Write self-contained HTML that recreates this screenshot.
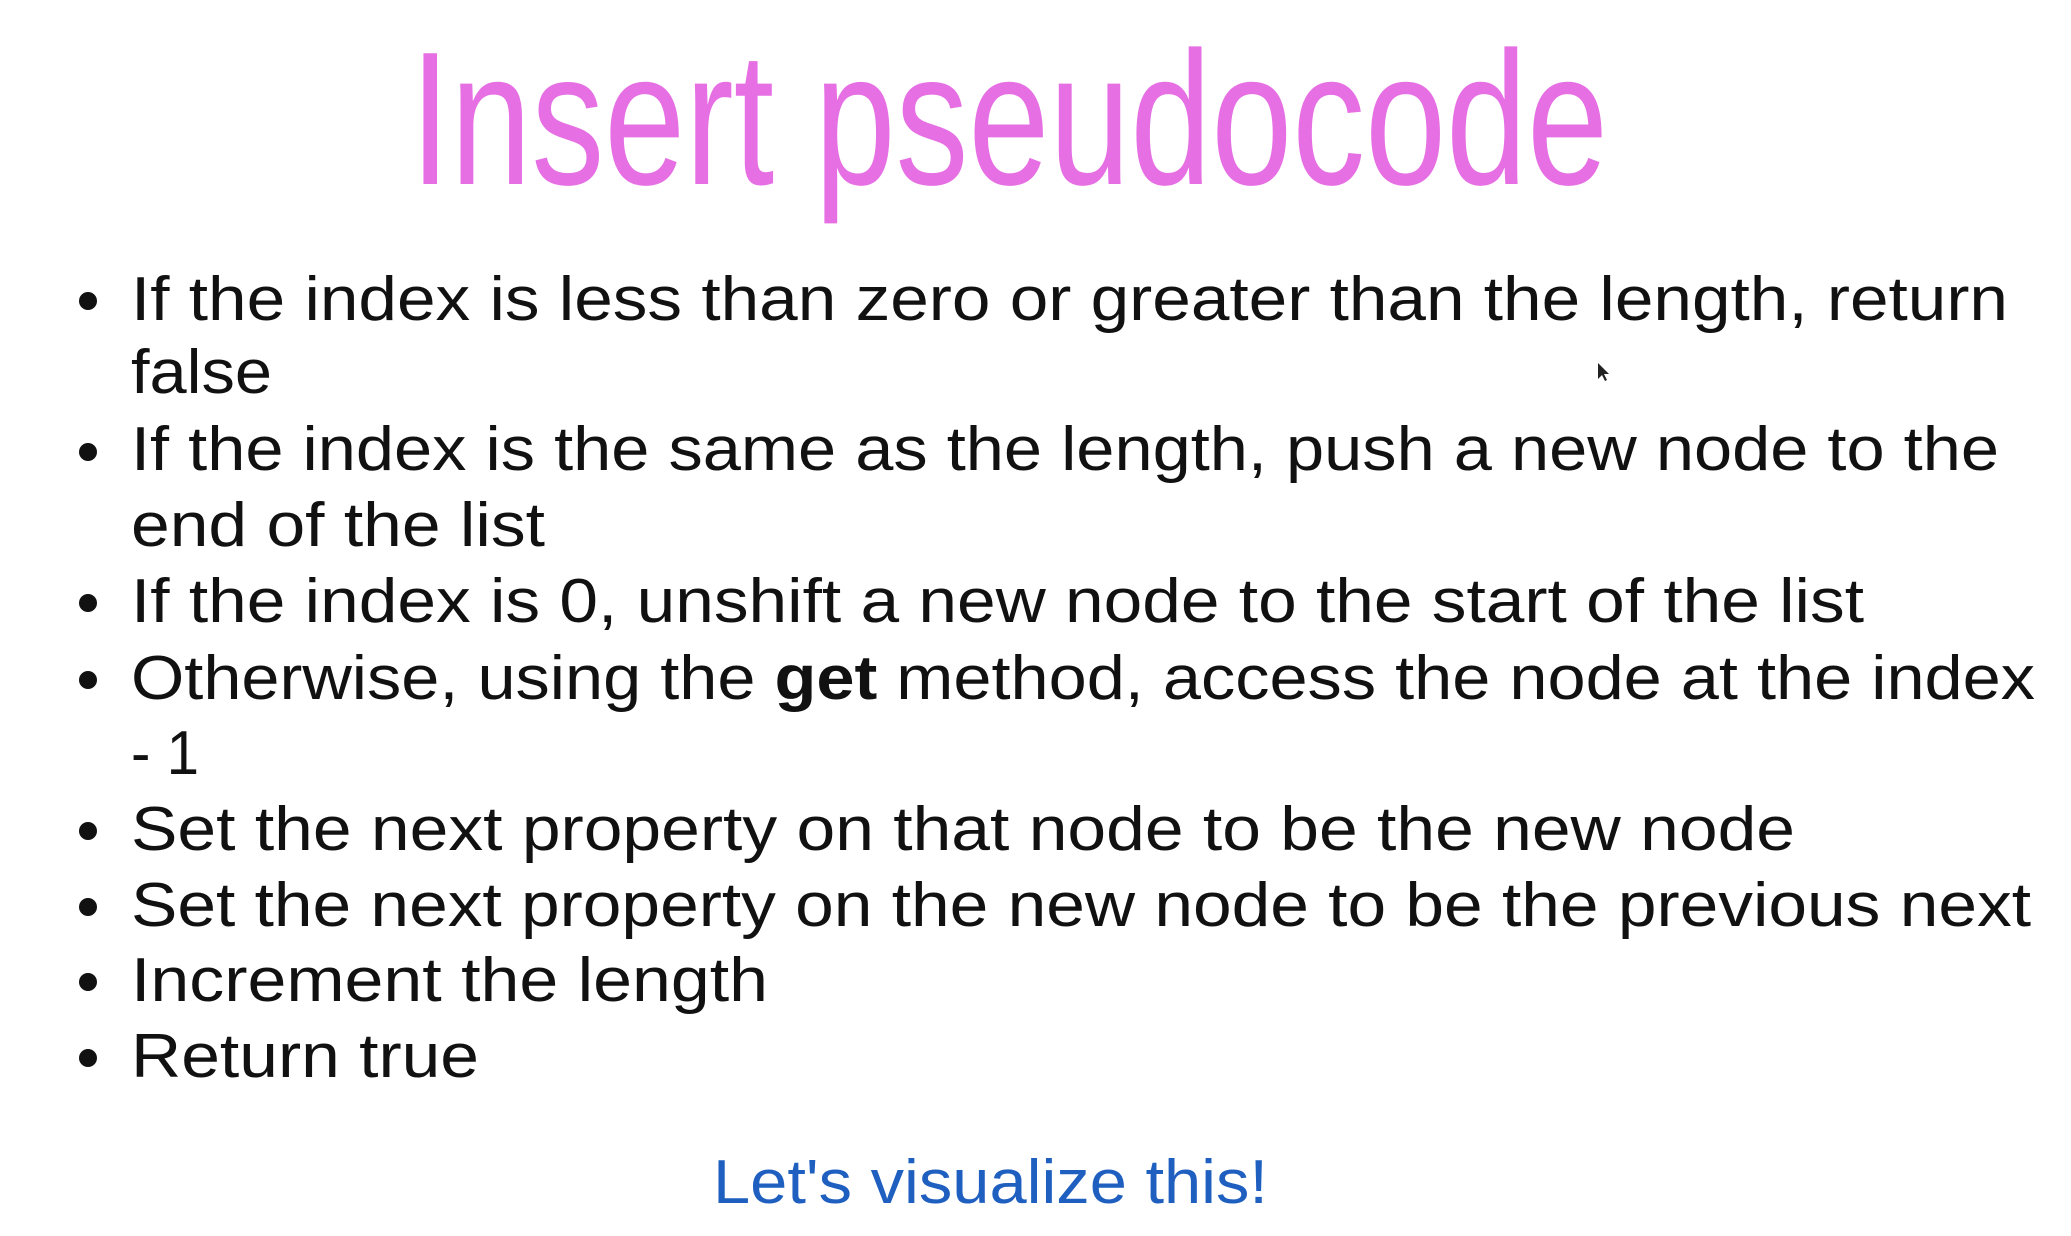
<!DOCTYPE html>
<html><head><meta charset="utf-8"><style>
html,body{margin:0;padding:0;background:#fff;}
svg{display:block;}
.b{font-family:"Liberation Sans",sans-serif;font-size:62px;fill:#111;}
</style></head><body>
<svg width="2071" height="1236" viewBox="0 0 2071 1236" xmlns="http://www.w3.org/2000/svg">
<rect width="2071" height="1236" fill="#fff"/>
<text x="410" y="184" font-family="Liberation Sans, sans-serif" font-size="190" fill="#e66fe4" textLength="1198" lengthAdjust="spacingAndGlyphs">Insert pseudocode</text>
<g fill="#111">
<circle cx="88" cy="301" r="9"/>
<circle cx="88" cy="452" r="9"/>
<circle cx="88" cy="603" r="9"/>
<circle cx="88" cy="680" r="9"/>
<circle cx="88" cy="831" r="9"/>
<circle cx="88" cy="907" r="9"/>
<circle cx="88" cy="982" r="9"/>
<circle cx="88" cy="1058" r="9"/>
</g>
<text class="b" x="131" y="320" textLength="1877" lengthAdjust="spacingAndGlyphs">If the index is less than zero or greater than the length, return</text>
<text class="b" x="131" y="393" textLength="141" lengthAdjust="spacingAndGlyphs">false</text>
<text class="b" x="131" y="470" textLength="1868" lengthAdjust="spacingAndGlyphs">If the index is the same as the length, push a new node to the</text>
<text class="b" x="131" y="546" textLength="414" lengthAdjust="spacingAndGlyphs">end of the list</text>
<text class="b" x="131" y="622" textLength="1733" lengthAdjust="spacingAndGlyphs">If the index is 0, unshift a new node to the start of the list</text>
<text class="b" x="131" y="699" textLength="1904" lengthAdjust="spacingAndGlyphs">Otherwise, using the <tspan font-weight="bold">get</tspan> method, access the node at the index</text>
<text class="b" x="131" y="774" textLength="68" lengthAdjust="spacingAndGlyphs">- 1</text>
<text class="b" x="131" y="850" textLength="1664" lengthAdjust="spacingAndGlyphs">Set the next property on that node to be the new node</text>
<text class="b" x="131" y="926" textLength="1900" lengthAdjust="spacingAndGlyphs">Set the next property on the new node to be the previous next</text>
<text class="b" x="131" y="1001" textLength="637" lengthAdjust="spacingAndGlyphs">Increment the length</text>
<text class="b" x="131" y="1077" textLength="348" lengthAdjust="spacingAndGlyphs">Return true</text>
<text x="713" y="1203" font-family="Liberation Sans, sans-serif" font-size="62" fill="#1f5fc0" textLength="555" lengthAdjust="spacingAndGlyphs">Let's visualize this!</text>
<path d="M1598 363 l0 16 l4 -4 l3 6 l2 -1 l-3 -6 l5 0 z" fill="#222"/>
</svg>
</body></html>
